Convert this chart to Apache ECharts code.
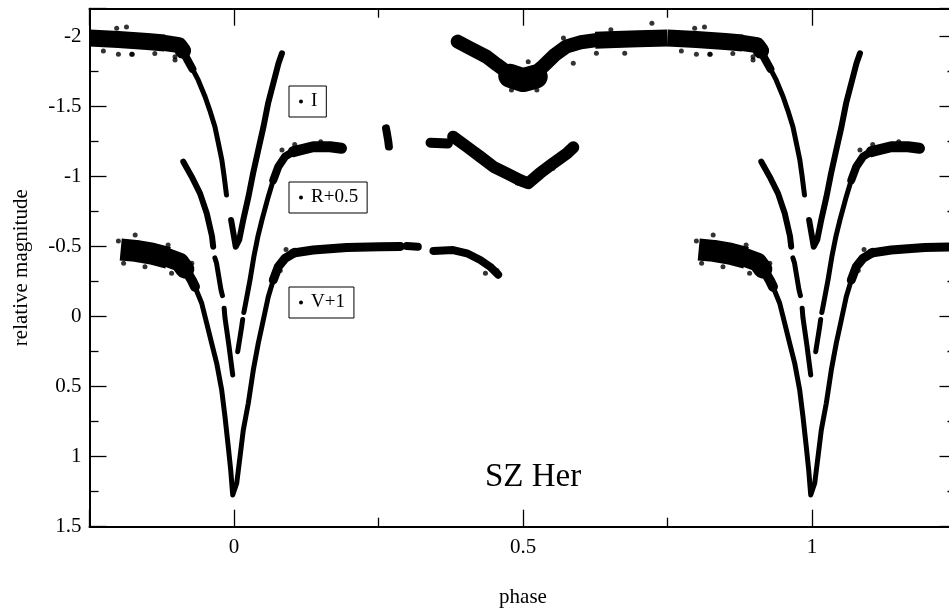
<!DOCTYPE html>
<html>
<head>
<meta charset="utf-8">
<title>SZ Her</title>
<script src="https://cdn.jsdelivr.net/npm/echarts@6/dist/echarts.min.js"></script>
<style>
  html, body { margin: 0; padding: 0; background: #fff; }
  #chart { width: 949px; height: 609px; }
</style>
</head>
<body>
<div id="chart"></div>
<script>
// light curve of SZ Her, [phase, relative magnitude]
// I band (stored over phase 0.38 .. 1.08)
var iSecondary = [[0.387,-1.965],[0.41,-1.915],[0.437,-1.857],[0.455,-1.80],[0.475,-1.74],[0.495,-1.695],[0.515,-1.72],[0.535,-1.79],[0.555,-1.87],[0.575,-1.93],[0.60,-1.96],[0.625,-1.975]];
var iSecondaryCore = [[0.478,-1.72],[0.50,-1.69],[0.522,-1.715]];
var iMaximumEarly = [[0.625,-1.975],[0.66,-1.98],[0.70,-1.985],[0.75,-1.99]];
var iMaximumLate = [[0.75,-1.99],[0.80,-1.98],[0.85,-1.965],[0.88,-1.955]];
var iMaximumTail = [[0.88,-1.955],[0.905,-1.94],[0.912,-1.90]];
var iIngressTop = [[0.912,-1.89],[0.920,-1.83],[0.928,-1.77]];
var iIngress = [[0.928,-1.77],[0.938,-1.691],[0.950,-1.571],[0.958,-1.476],[0.967,-1.357],[0.973,-1.239],[0.979,-1.119],[0.983,-1.0],[0.987,-0.869]];
var iEgress = [[0.995,-0.691],[0.999,-0.596],[1.003,-0.5],[1.009,-0.548],[1.016,-0.691],[1.025,-0.857],[1.033,-1.024],[1.042,-1.191],[1.051,-1.357],[1.059,-1.524],[1.068,-1.667],[1.077,-1.81],[1.083,-1.881]];
var iStray = [[-0.186,-2.07],[-0.203,-2.06],[0.723,-2.096],[0.898,-1.834],[0.652,-2.05],[0.57,-1.99],
  [-0.226,-1.898],[-0.2,-1.874],[-0.177,-1.874],[-0.137,-1.88],[-0.102,-1.857],
  [0.509,-1.821],[0.524,-1.619],[0.587,-1.81],[0.627,-1.881],[0.48,-1.619],[0.824,-1.874],[0.676,-1.881]];

// R band, shifted by +0.5 (stored over phase -0.09 .. 0.59)
var rIngressA = [[-0.0877,-1.107],[-0.0732,-1.0],[-0.0588,-0.881],[-0.0472,-0.739],[-0.0381,-0.576],[-0.036,-0.50]];
var rIngressB = [[-0.033,-0.42],[-0.0303,-0.384],[-0.0225,-0.191],[-0.020,-0.15]];
var rIngressC = [[-0.017,-0.06],[-0.0156,0.009],[-0.0087,0.209],[-0.0022,0.416]];
var rEgressA = [[0.0064,0.25],[0.0133,0.071],[0.015,0.02]];
var rEgressB = [[0.017,-0.03],[0.019,-0.071],[0.0277,-0.262],[0.0346,-0.434],[0.0415,-0.576],[0.0484,-0.691],[0.0593,-0.857],[0.068,-0.976]];
var rShoulder = [[0.068,-0.976],[0.0766,-1.071],[0.0882,-1.143],[0.1026,-1.179]];
var rPlateau = [[0.1026,-1.179],[0.114,-1.191],[0.137,-1.214],[0.166,-1.214],[0.186,-1.203]];
var rClumpA = [[0.263,-1.345],[0.265,-1.30],[0.267,-1.25],[0.268,-1.215]];
var rClumpB = [[0.34,-1.243],[0.37,-1.237]];
var rSecondary = [[0.379,-1.286],[0.403,-1.214],[0.426,-1.143],[0.449,-1.071],[0.472,-1.024],[0.495,-0.976],[0.509,-0.953],[0.529,-1.024],[0.552,-1.096],[0.576,-1.167],[0.587,-1.21]];
var rStray = [[0.552,-1.06],[0.49,-0.955],[0.105,-1.23],[0.15,-1.25],[0.083,-1.19]];

// V band, shifted by +1 (stored over phase -0.2 .. 0.46)
var vMaximum = [[-0.196,-0.48],[-0.17,-0.47],[-0.142,-0.45],[-0.114,-0.42]];
var vMaximumTail = [[-0.114,-0.42],[-0.094,-0.39],[-0.085,-0.34]];
var vShoulderIn = [[-0.094,-0.39],[-0.083,-0.33],[-0.073,-0.26],[-0.0675,-0.214]];
var vPrimary = [[-0.0675,-0.214],[-0.0559,-0.096],[-0.0472,0.047],[-0.0386,0.19],[-0.0299,0.333],[-0.0213,0.524],[-0.0156,0.714],[-0.0099,0.929],[-0.0057,1.095],[-0.0022,1.274],[0.0047,1.19],[0.0104,1.0],[0.0161,0.809],[0.0247,0.619],[0.0334,0.381],[0.042,0.19],[0.0507,0.024],[0.0593,-0.143],[0.068,-0.262]];
var vShoulderOut = [[0.068,-0.262],[0.0766,-0.357],[0.0882,-0.417],[0.1055,-0.46]];
var vPlateau = [[0.1026,-0.455],[0.137,-0.476],[0.195,-0.495],[0.253,-0.5],[0.288,-0.502]];
var vClump = [[0.299,-0.505],[0.318,-0.5]];
var vTail = [[0.345,-0.47],[0.379,-0.476],[0.403,-0.453],[0.426,-0.405],[0.443,-0.357],[0.457,-0.30]];
var vStray = [[-0.114,-0.512],[-0.073,-0.381],[-0.108,-0.31],[-0.2,-0.54],[0.455,-0.33],[0.435,-0.31],
  [-0.171,-0.584],[-0.191,-0.381],[-0.154,-0.357],[0.08,-0.33],[0.09,-0.48]];

var seriesNames = ['I', 'R+0.5', 'V+1'];
var xTickLabels = ['0', '0.5', '1'];
var yTickLabels = ['-2', '-1.5', '-1', '-0.5', '0', '0.5', '1', '1.5'];

// which band each piece belongs to, and how thick the scatter looks there
var pieces = [
  { name: 'I', data: iSecondary, width: 14 },
  { name: 'I', data: iSecondaryCore, width: 24 },
  { name: 'I', data: iMaximumEarly, width: 17, cap: 'butt' },
  { name: 'I', data: iMaximumLate, width: 17, cap: 'butt' },
  { name: 'I', data: iMaximumTail, width: 16 },
  { name: 'I', data: iIngressTop, width: 8 },
  { name: 'I', data: iIngress, width: 5 },
  { name: 'I', data: iEgress, width: 6 },
  { name: 'R+0.5', data: rIngressA, width: 6 },
  { name: 'R+0.5', data: rIngressB, width: 5 },
  { name: 'R+0.5', data: rIngressC, width: 5 },
  { name: 'R+0.5', data: rEgressA, width: 5 },
  { name: 'R+0.5', data: rEgressB, width: 5 },
  { name: 'R+0.5', data: rShoulder, width: 8 },
  { name: 'R+0.5', data: rPlateau, width: 11 },
  { name: 'R+0.5', data: rClumpA, width: 8 },
  { name: 'R+0.5', data: rClumpB, width: 10 },
  { name: 'R+0.5', data: rSecondary, width: 12 },
  { name: 'V+1', data: vMaximum, width: 22, cap: 'butt' },
  { name: 'V+1', data: vMaximumTail, width: 19 },
  { name: 'V+1', data: vShoulderIn, width: 10 },
  { name: 'V+1', data: vPrimary, width: 5 },
  { name: 'V+1', data: vShoulderOut, width: 9 },
  { name: 'V+1', data: vPlateau, width: 9 },
  { name: 'V+1', data: vClump, width: 8 },
  { name: 'V+1', data: vTail, width: 8 }
];
var strays = [
  { name: 'I', data: iStray },
  { name: 'R+0.5', data: rStray },
  { name: 'V+1', data: vStray }
];

// a phase diagram shows every point once per cycle, so each piece is drawn again one cycle earlier and later
var cycles = [-1, 0, 1];
var xMin = -0.25, xMax = 1.25;

var font = 'Liberation Serif';

function repeatCycle(data, c) {
  return data.map(function (d) { return [d[0] + c, d[1]]; });
}
function onAxis(data) {
  var xs = data.map(function (d) { return d[0]; });
  return Math.max.apply(null, xs) > xMin && Math.min.apply(null, xs) < xMax;
}

var series = [];
pieces.forEach(function (p) {
  cycles.forEach(function (c) {
    var data = repeatCycle(p.data, c);
    if (!onAxis(data)) return;
    series.push({
      type: 'line',
      name: p.name,
      data: data,
      symbol: 'none',
      clip: true,
      silent: true,
      lineStyle: { color: '#000', width: p.width, cap: p.cap || 'round', join: 'round' },
      itemStyle: { color: '#000' },
      emphasis: { disabled: true }
    });
  });
});
strays.forEach(function (s) {
  cycles.forEach(function (c) {
    series.push({
      type: 'scatter',
      name: s.name,
      data: repeatCycle(s.data, c),
      symbolSize: 5,
      clip: true,
      silent: true,
      itemStyle: { color: '#000' },
      emphasis: { disabled: true }
    });
  });
});

function tickLabel(list) {
  return function (v) {
    var s = String(Math.round(v * 100) / 100);
    return list.indexOf(s) >= 0 ? s : '';
  };
}

function axis(extra) {
  var base = {
    type: 'value',
    minInterval: 0.5,
    maxInterval: 0.5,
    axisLine: { show: true, onZero: false, lineStyle: { color: '#000', width: 2 } },
    axisTick: { show: true, inside: true, length: 17, lineStyle: { color: '#000', width: 1.3 } },
    minorTick: { show: true, splitNumber: 2, length: 9, lineStyle: { color: '#000', width: 1.3 } },
    splitLine: { show: false },
    minorSplitLine: { show: false }
  };
  for (var k in extra) base[k] = extra[k];
  return base;
}

var chart = echarts.init(document.getElementById('chart'), null, { renderer: 'canvas' });

var legends = [
  { name: seriesNames[0], top: 86 },
  { name: seriesNames[1], top: 182 },
  { name: seriesNames[2], top: 287 }
].map(function (l) {
  return {
    data: [l.name],
    left: 289,
    top: l.top,
    orient: 'vertical',
    icon: 'circle',
    itemWidth: 4,
    itemHeight: 4,
    selectedMode: false,
    borderColor: '#000',
    borderWidth: 1,
    borderRadius: 0,
    padding: [6, 9, 6, 10],
    textStyle: { fontFamily: font, fontSize: 19, lineHeight: 19, color: '#000', padding: [0, 0, 0, 3] }
  };
});

chart.setOption({
  backgroundColor: '#fff',
  animation: false,
  grid: { left: 89.5, right: -7.5, top: 8.7, bottom: 82.3, containLabel: false, outerBoundsMode: 'none' },
  legend: legends,
  xAxis: [
    axis({
      position: 'bottom', min: xMin, max: xMax, splitNumber: 3,
      name: 'phase', nameLocation: 'middle', nameGap: 60,
      nameTextStyle: { fontFamily: font, fontSize: 21, color: '#000' },
      axisLabel: { margin: 10, formatter: tickLabel(xTickLabels), fontFamily: font, fontSize: 21, color: '#000' }
    }),
    axis({
      position: 'top', min: xMin, max: xMax, splitNumber: 3,
      axisLabel: { show: false }
    })
  ],
  yAxis: [
    axis({
      position: 'left', inverse: true, min: -2.2, max: 1.5, splitNumber: 7,
      name: 'relative magnitude', nameLocation: 'middle', nameGap: 58, nameRotate: 90,
      nameTextStyle: { fontFamily: font, fontSize: 21, color: '#000' },
      axisLabel: { margin: 8, formatter: tickLabel(yTickLabels), fontFamily: font, fontSize: 21, color: '#000' }
    }),
    axis({
      position: 'right', inverse: true, min: -2.2, max: 1.5, splitNumber: 7,
      axisLabel: { show: false }
    })
  ],
  graphic: [{
    type: 'text',
    x: 533,
    y: 477,
    silent: true,
    style: { text: 'SZ Her', fontFamily: font, fontSize: 33, fill: '#000', align: 'center', verticalAlign: 'middle' }
  }],
  series: series
});
</script>
</body>
</html>
